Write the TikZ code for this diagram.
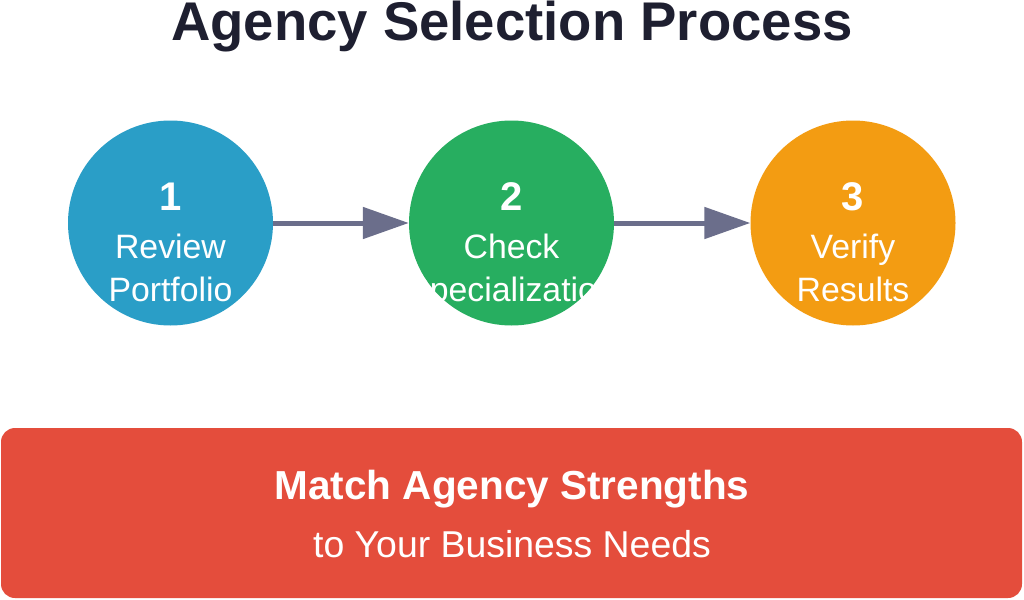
\documentclass[tikz,border=0pt]{standalone}
\usepackage{fontspec}
\setmainfont{Liberation Sans}
\usetikzlibrary{arrows.meta}
\definecolor{titlec}{HTML}{1E1F30}
\definecolor{bluec}{HTML}{2A9EC7}
\definecolor{greenc}{HTML}{27AE60}
\definecolor{orangec}{HTML}{F39C12}
\definecolor{redc}{HTML}{E44D3C}
\definecolor{arrowc}{HTML}{6B6E8B}
\tikzset{
  stepcircle/.style={circle, minimum size=205pt, inner sep=0pt},
  numtxt/.style={anchor=base, text=white, font=\fontsize{40}{40}\selectfont\bfseries, inner sep=0pt},
  labtxt/.style={anchor=base, text=white, font=\fontsize{33.8}{34}\selectfont, inner sep=0pt},
  flow/.style={arrowc, line width=5pt, -{Triangle[length=46pt,width=31pt]}},
}
\begin{document}
\begin{tikzpicture}[x=1pt,y=-1pt]
\useasboundingbox (0,0) rectangle (1024,599);
\fill[white] (0,0) rectangle (1024,599);
\node[anchor=base, text=titlec, inner sep=0pt, font=\fontsize{54.5}{55}\selectfont\bfseries] (title) at (512,41) {Agency Selection Process};

\node[stepcircle, fill=bluec] (c1) at (170.5,223) {};
\node[stepcircle, fill=greenc] (c2) at (511.5,223) {};
\node[stepcircle, fill=orangec] (c3) at (853,223) {};

\draw[flow] (c1.east) -- (c2.west);
\draw[flow] (c2.east) -- (c3.west);

\node[numtxt] (n1) at (170.5,210) {1};
\node[labtxt] (l1a) at (170.5,258) {Review};
\node[labtxt] (l1b) at (170.5,301) {Portfolio};

\node[numtxt] (n2) at (511.5,210) {2};
\node[labtxt] (l2a) at (511.5,258) {Check};
\node[labtxt] (l2b) at (511.5,301) {Specialization};

\node[numtxt] (n3) at (853,210) {3};
\node[labtxt] (l3a) at (853,258) {Verify};
\node[labtxt] (l3b) at (853,301) {Results};

\fill[redc, rounded corners=14pt] (1,428) rectangle (1022,598);
\node[anchor=base, text=white, inner sep=0pt, font=\fontsize{40.5}{41}\selectfont\bfseries] (m1) at (512,499) {Match Agency Strengths};
\node[anchor=base, text=white, inner sep=0pt, font=\fontsize{37.4}{38}\selectfont] (m2) at (512,557) {to Your Business Needs};
\end{tikzpicture}
\end{document}
